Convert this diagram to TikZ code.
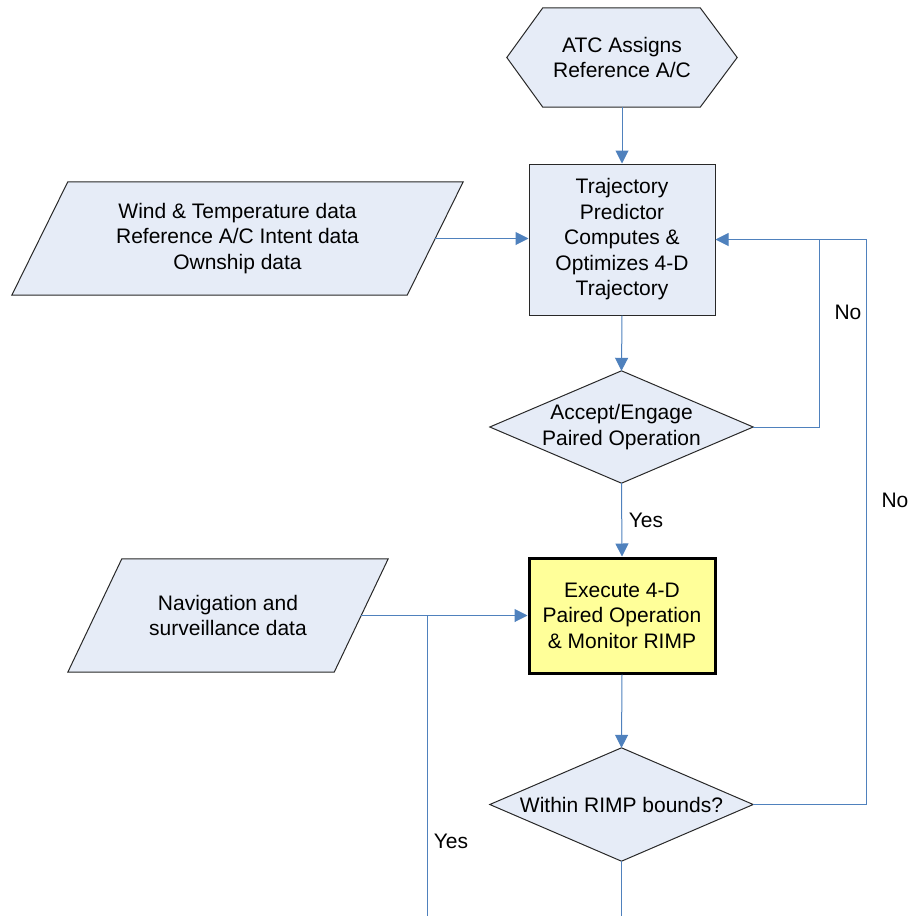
\documentclass[tikz,border=0pt]{standalone}
\usepackage{fontspec}
\setmainfont{Liberation Sans}
\usetikzlibrary{arrows.meta,calc,backgrounds}
\definecolor{boxfill}{RGB}{230,236,247}
\definecolor{execfill}{RGB}{255,255,153}
\definecolor{conn}{RGB}{79,129,189}
\definecolor{outline}{RGB}{40,40,40}
\begin{document}
\begin{tikzpicture}[x=1pt,y=-1pt,
  txt/.style={inner sep=0pt, align=center, font=\fontsize{21}{25.5}\selectfont},
  shapeline/.style={draw=outline, fill=boxfill, line width=1pt, line join=miter},
  link/.style={draw=conn, line width=1pt},
  arr/.style={link, -{Triangle[length=13pt,width=13pt]}},
  lbl/.style={font=\fontsize{21}{25.5}\selectfont, inner sep=0pt}
]
\useasboundingbox (0,0) rectangle (911,916);

% nodes
\node[txt, minimum width=230pt, minimum height=99pt] (atc) at (622,57.5) {ATC Assigns\\Reference A/C};
\node[txt, draw=outline, fill=boxfill, line width=1pt, minimum width=186pt, minimum height=151pt] (traj) at (622,239.5) {Trajectory\\Predictor\\Computes \&\\Optimizes 4-D\\Trajectory};
\node[txt, minimum width=451pt, minimum height=113pt] (wind) at (237.5,238.5) {Wind \& Temperature data\\Reference A/C Intent data\\Ownship data};
\node[txt, minimum width=263pt, minimum height=112pt] (acc) at (621.5,427) {Accept/Engage\\Paired Operation};
\node[txt, draw=black, fill=execfill, line width=3pt, minimum width=186pt, minimum height=115pt] (exec) at (622,615.5) {Execute 4-D\\Paired Operation\\\& Monitor RIMP};
\node[txt, minimum width=320pt, minimum height=113pt] (nav) at (228,615.5) {Navigation and\\surveillance data};
\node[txt, minimum width=263pt, minimum height=113pt] (within) at (621.5,804.5) {Within RIMP bounds?};

% shapes drawn behind the texts
\begin{scope}[on background layer]
\path[shapeline] ([xshift=36pt]atc.north west) -- ([xshift=-37pt]atc.north east) -- (atc.east)
  -- ([xshift=-37pt]atc.south east) -- ([xshift=36pt]atc.south west) -- (atc.west) -- cycle;
\path[shapeline] ([xshift=56pt]wind.north west) -- (wind.north east)
  -- ([xshift=-56pt]wind.south east) -- (wind.south west) -- cycle;
\path[shapeline] (acc.north) -- (acc.east) -- (acc.south) -- (acc.west) -- cycle;
\path[shapeline] ([xshift=54pt]nav.north west) -- (nav.north east)
  -- ([xshift=-54pt]nav.south east) -- (nav.south west) -- cycle;
\path[shapeline] (within.north) -- (within.east) -- (within.south) -- (within.west) -- cycle;
\end{scope}

% helper coordinates
\coordinate (windout) at ([xshift=-28pt]wind.east);
\coordinate (navout) at ([xshift=-27pt]nav.east);
\coordinate (j1) at (819,239.5);
\coordinate (j2) at (866,239.5);
\coordinate (j3) at (427,615.5);
\coordinate (bot1) at (427,916);
\coordinate (bot2) at (621.5,916);

% connectors
\draw[arr] (atc.south) -- (traj.north);
\draw[arr] (windout) -- (windout -| traj.west);
\draw[arr] (traj.south) -- (acc.north);
\draw[arr] (acc.east) -| (j1) -- (traj.east);
\draw[link] (within.east) -| (j2) -- (j1);
\draw[arr] (acc.south) -- (exec.north);
\draw[arr] (navout) -- (navout -| exec.west);
\draw[link] (bot1) -- (j3);
\draw[arr] (exec.south) -- (within.north);
\draw[link] (within.south) -- (bot2);

% labels
\node[lbl] (no1) at (848,312) {No};
\node[lbl] (no2) at (895,500) {No};
\node[lbl] (yes1) at (646,520) {Yes};
\node[lbl] (yes2) at (451,841) {Yes};
\end{tikzpicture}
\end{document}
